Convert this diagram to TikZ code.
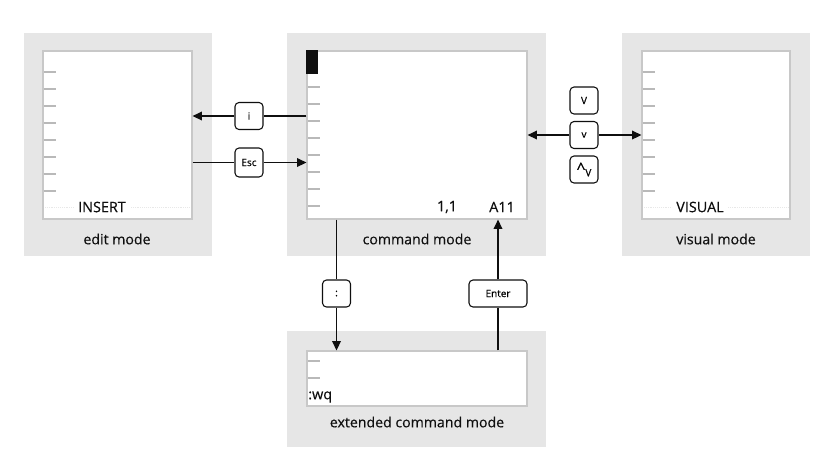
\documentclass[tikz,border=0pt]{standalone}
\usepackage{fontspec}
\setmainfont{Open Sans}[FakeBold=0.4]
\usetikzlibrary{arrows.meta}
\definecolor{panelgray}{RGB}{230,230,230}
\definecolor{edgegray}{RGB}{200,200,200}
\definecolor{tickgray}{RGB}{185,185,185}
\definecolor{ink}{RGB}{15,15,15}
\tikzset{
  panel/.style 2 args={fill=panelgray, inner sep=0pt, minimum width=#1, minimum height=#2},
  screen/.style 2 args={draw=edgegray, line width=0.9pt, fill=white, inner sep=0pt, minimum width=#1, minimum height=#2},
  key/.style={draw=ink, line width=0.8pt, fill=white, rounded corners=3pt, inner sep=0pt, minimum width=#1, minimum height=20.25pt, font=\fontsize{7.5}{9}\selectfont},
  key/.default={21pt},
  arrow/.style={-{Triangle[length=7pt,width=6.5pt]}, line width=1.1pt, draw=ink},
  wire/.style={line width=1.1pt, draw=ink},
  tick/.style={draw=tickgray, line width=0.8pt},
  lbl/.style={font=\fontsize{10.6}{12}\selectfont, inner sep=0pt, text=ink},
  stat/.style={font=\fontsize{10.8}{12}\selectfont, inner sep=0pt, text=ink}
}
\begin{document}
\begin{tikzpicture}[x=0.75pt, y=-0.75pt]
  \useasboundingbox (0,0) rectangle (837,462);
  % gray panels
  \node[panel={141pt}{167.25pt}] (editbg) at (118,144.5) {};
  \node[panel={194.25pt}{167.25pt}] (cmdbg) at (416.5,144.5) {};
  \node[panel={141pt}{167.25pt}] (visbg) at (716,144.5) {};
  \node[panel={194.25pt}{87pt}] (extbg) at (416.5,389) {};
  % screens
  \node[screen={111.75pt}{126pt}] (editscr) at (117.5,135) {};
  \node[screen={165pt}{126pt}] (cmdscr) at (417,135) {};
  \node[screen={111pt}{126pt}] (visscr) at (716,135) {};
  \node[screen={165pt}{41.25pt}] (extscr) at (417,378.5) {};
  % line ticks
  \foreach \y in {72,89,106,123,140,157,174,191} {
    \draw[tick] (43.5,\y) -- ++(12,0);
    \draw[tick] (642.5,\y) -- ++(12,0);
  }
  \foreach \y in {87,104,121,138,155,172,189,206}
    \draw[tick] (307.5,\y) -- ++(12,0);
  \foreach \y in {361,378}
    \draw[tick] (307.5,\y) -- ++(12,0);
  \fill[ink] (cmdscr.north west) rectangle ++(12,24);
  \draw[densely dotted, gray!18] (45,207) -- (74,207) (131,207) -- (190,207);
  \draw[densely dotted, gray!18] (644,207) -- (672,207) (728,207) -- (788,207);
  % status texts
  \node[stat] (insert) at (102,207) {INSERT};
  \node[stat] (visual) at (700,207) {VISUAL};
  \node[stat] (pos) at (447,207) {1,1};
  \node[stat] (all) at (502,207) {A11};
  \node[stat, anchor=west] (wq) at (308,397) {:wq};
  % panel names
  \node[lbl] (editname) at (117,239) {edit mode};
  \node[lbl] (cmdname) at (417,239) {command mode};
  \node[lbl] (visname) at (716,239) {visual mode};
  \node[lbl] (extname) at (417,422) {extended command mode};
  % keys
  \node[key] (ki) at (249,116) {i};
  \node[key, minimum height=21.75pt] (kesc) at (249,162.5) {Esc};
  \node[key] (kV) at (584,100.5) {V};
  \node[key] (kv) at (584,135) {v};
  \node[key] (kcv) at (584,169.5) {\raisebox{-0.5pt}{\fontsize{12}{12}\selectfont\textasciicircum}\raisebox{-2pt}{V}};
  \node[key] (kcolon) at (336.5,293.5) {:};
  \node[key=43.5pt] (kenter) at (498,293.5) {Enter};
  % transitions
  \draw[wire] (ki -| cmdscr.west) -- (ki.east);
  \draw[arrow] (ki.west) -- (ki -| editscr.east);
  \draw[wire] (kesc -| editscr.east) -- (kesc.west);
  \draw[arrow] (kesc.east) -- (kesc -| cmdscr.west);
  \draw[arrow] (kv.west) -- (kv -| cmdscr.east);
  \draw[arrow] (kv.east) -- (kv -| visscr.west);
  \draw[wire] (kcolon |- cmdscr.south) -- (kcolon.north);
  \draw[arrow] (kcolon.south) -- (kcolon |- extscr.north);
  \draw[wire] (kenter |- extscr.north) -- (kenter.south);
  \draw[arrow] (kenter.north) -- (kenter |- cmdscr.south);
\end{tikzpicture}
\end{document}
